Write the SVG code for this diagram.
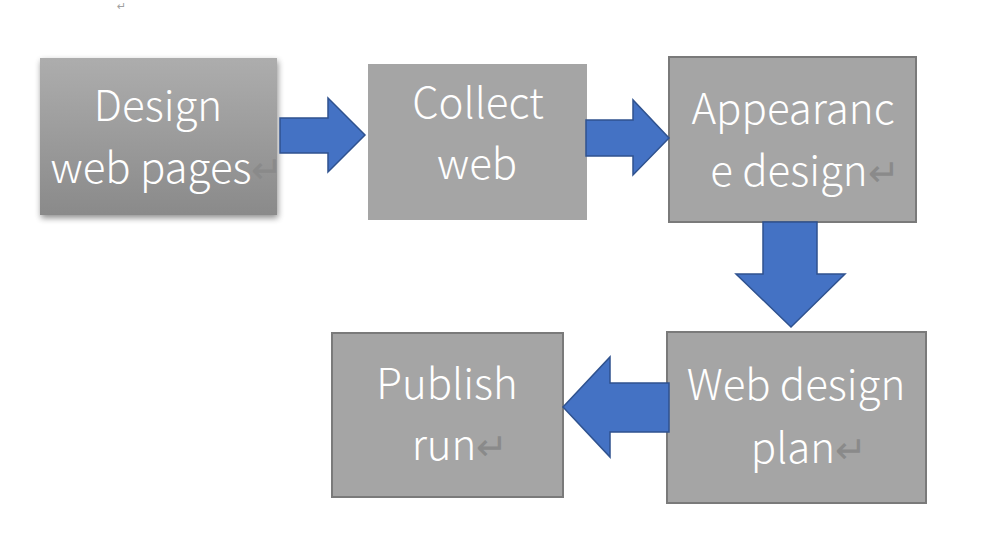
<svg xmlns="http://www.w3.org/2000/svg" width="988" height="551" viewBox="0 0 988 551">
<defs>
<linearGradient id="g1" x1="0" y1="0" x2="0" y2="1">
<stop offset="0" stop-color="#adadad"/>
<stop offset="1" stop-color="#8a8a8a"/>
</linearGradient>
<filter id="sh" x="-10%" y="-10%" width="125%" height="130%">
<feGaussianBlur in="SourceAlpha" stdDeviation="3"/>
<feOffset dx="1" dy="3" result="b"/>
<feComponentTransfer><feFuncA type="linear" slope="0.45"/></feComponentTransfer>
<feMerge><feMergeNode/><feMergeNode in="SourceGraphic"/></feMerge>
</filter>
</defs>
<style>
.box{fill:#a5a5a5;stroke:#7a7a7a;stroke-width:2}
.t{font-family:"Noto Sans CJK SC","Noto Sans",sans-serif;font-weight:300;font-size:42px;fill:#ffffff;text-anchor:middle}
.r{fill:#8a8a8a;font-size:38px}
.arr{fill:#4472c4;stroke:#2f528f;stroke-width:1.5;stroke-linejoin:miter}
.pm{font-family:"DejaVu Sans",sans-serif;font-size:11px;fill:#a0a0a0}
</style>
<text class="pm" x="117" y="10">↵</text>
<g id="n1">
<rect x="40" y="58" width="237" height="157" fill="url(#g1)" filter="url(#sh)"/>
<text class="t" x="158" y="121">Design</text>
<text class="t" x="167" y="183">web pages<tspan class="r">↵</tspan></text>
</g>
<g id="n2">
<rect x="368" y="64" width="219" height="156" fill="#a5a5a5"/>
<text class="t" x="478" y="118">Collect</text>
<text class="t" x="477" y="179">web</text>
</g>
<g id="n3">
<rect class="box" x="669" y="57" width="247" height="165"/>
<text class="t" x="793" y="124">Appearanc</text>
<text class="t" x="805" y="186">e design<tspan class="r">↵</tspan></text>
</g>
<g id="n4">
<rect class="box" x="667" y="332" width="259" height="171"/>
<text class="t" x="796" y="400">Web design</text>
<text class="t" x="809" y="463">plan<tspan class="r">↵</tspan></text>
</g>
<g id="n5">
<rect class="box" x="332" y="333" width="231" height="164"/>
<text class="t" x="447" y="399">Publish</text>
<text class="t" x="460" y="460">run<tspan class="r">↵</tspan></text>
</g>
<g id="connectors">
<polygon class="arr" points="280,118 328,118 328,98 365,135 328,172 328,153 280,153"/>
<polygon class="arr" points="586,120 633,120 633,100 669,138 633,175 633,156 586,156"/>
<polygon class="arr" points="763,222 817,222 817,274 845,274 791,327 736,274 763,274"/>
<polygon class="arr" points="669,383 610,383 610,357 563,407 610,457 610,432 669,432"/>
</g>
</svg>
